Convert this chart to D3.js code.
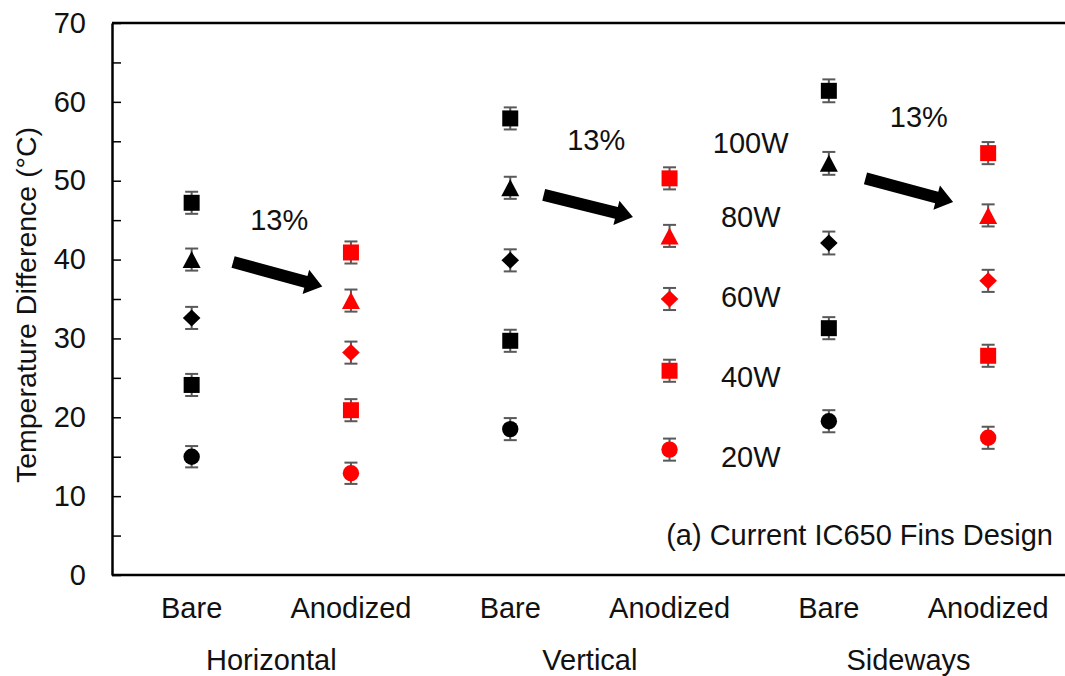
<!DOCTYPE html>
<html>
<head>
<meta charset="utf-8">
<script src="https://cdn.jsdelivr.net/npm/d3@7"></script>
<style>
  html, body { margin: 0; padding: 0; background: #fff; }
  svg { display: block; font-family: "Liberation Sans", Arial, sans-serif; }
</style>
</head>
<body>
<script>
// Fin temperature rise by orientation, surface finish and heater power
const categories = ["Bare", "Anodized", "Bare", "Anodized", "Bare", "Anodized"];
const groups = ["Horizontal", "Vertical", "Sideways"];
const powers = ["100W", "80W", "60W", "40W", "20W"];
const shapes = ["square", "triangle", "diamond", "square", "circle"];

// Temperature difference (°C), one value per category
const p100 = [47.2, 40.9, 57.9, 50.3, 61.4, 53.5];
const p80  = [40.0, 34.8, 49.1, 43.0, 52.2, 45.6];
const p60  = [32.6, 28.2, 39.9, 35.0, 42.1, 37.3];
const p40  = [24.1, 20.9, 29.7, 25.9, 31.3, 27.8];
const p20  = [15.0, 12.9, 18.5, 15.9, 19.5, 17.4];
const series = [p100, p80, p60, p40, p20];

// Measurement uncertainty (± °C)
const err100 = [1.4, 1.4, 1.4, 1.4, 1.45, 1.4];
const err80  = [1.4, 1.4, 1.4, 1.4, 1.45, 1.4];
const err60  = [1.4, 1.4, 1.4, 1.4, 1.45, 1.4];
const err40  = [1.4, 1.4, 1.4, 1.4, 1.4, 1.4];
const err20  = [1.35, 1.35, 1.4, 1.4, 1.4, 1.4];
const errors = [err100, err80, err60, err40, err20];

// Reduction annotations between bare and anodized fins
const reductionText = ["13%", "13%", "13%"];
const yTicks = d3.range(0, 71, 5);

const W = 1065, H = 676;
const plotLeft = 112, plotTop = 23, plotBottom = 575, band = 159.3;
const FS = 29;

const svg = d3.select("body").append("svg")
  .attr("width", W).attr("height", H);

const x = d3.scaleBand().domain(d3.range(categories.length))
  .range([plotLeft, plotLeft + band * categories.length]).padding(0);
const xg = d3.scaleBand().domain(groups)
  .range([plotLeft, plotLeft + band * categories.length]).padding(0);
const y = d3.scaleLinear().domain([0, 70]).range([plotBottom, plotTop]);
const cx = i => x(i) + x.bandwidth() / 2;

// frame line along the top
svg.append("line").attr("x1", plotLeft).attr("x2", W).attr("y1", plotTop).attr("y2", plotTop)
  .attr("stroke", "#000").attr("stroke-width", 2.5);

// y axis with inward ticks
const yAxis = d3.axisLeft(y).tickValues(yTicks)
  .tickSizeInner(-9).tickSizeOuter(0).tickPadding(26)
  .tickFormat(d => d % 10 === 0 ? d : "");
const gy = svg.append("g").attr("transform", `translate(${plotLeft},0)`).call(yAxis);
gy.select(".domain").attr("stroke", "#000").attr("stroke-width", 2.5);
gy.selectAll(".tick line").attr("stroke", "#000").attr("stroke-width", 1.5);
gy.selectAll(".tick text").attr("font-size", FS).attr("fill", "#111")
  .attr("font-family", "Liberation Sans, Arial, sans-serif");

// x axis: finish labels and orientation groups
const xAxis = d3.axisBottom(x).tickSize(0).tickPadding(22).tickFormat(i => categories[i]);
const gx = svg.append("g").attr("transform", `translate(0,${plotBottom})`).call(xAxis);
gx.select(".domain").attr("stroke", "#000").attr("stroke-width", 2.5)
  .attr("d", `M${plotLeft},0H${W}`);
gx.selectAll(".tick text").attr("font-size", FS).attr("fill", "#111")
  .attr("font-family", "Liberation Sans, Arial, sans-serif");

svg.append("g").selectAll("text").data(groups).join("text")
  .attr("x", d => xg(d) + xg.bandwidth() / 2)
  .attr("y", 670)
  .attr("text-anchor", "middle").attr("font-size", FS).attr("fill", "#111")
  .text(d => d);

// y axis title
svg.append("text")
  .attr("transform", `translate(36,${(plotTop + plotBottom) / 2 + 6}) rotate(-90)`)
  .attr("text-anchor", "middle").attr("font-size", 28.5).attr("fill", "#111")
  .text("Temperature Difference (°C)");

// marker shapes, centered on the value
function markerPath(shape) {
  const p = d3.path();
  if (shape === "square") {
    p.rect(-8, -8, 16, 16);
  } else if (shape === "triangle") {
    p.moveTo(0, -8.5); p.lineTo(9, 8.5); p.lineTo(-9, 8.5); p.closePath();
  } else if (shape === "diamond") {
    p.moveTo(0, -8.5); p.lineTo(8.8, 0); p.lineTo(0, 8.5); p.lineTo(-8.8, 0); p.closePath();
  } else {
    p.arc(0, 0, 8.2, 0, 2 * Math.PI);
  }
  return p.toString();
}

const points = [];
series.forEach((vals, s) => vals.forEach((v, i) => points.push({
  s, i, v, e: errors[s][i], shape: shapes[s], color: i % 2 === 0 ? "#000" : "#ff0000"
})));

// error bars
const eb = svg.append("g").selectAll("g").data(points).join("g")
  .attr("stroke", "#595959").attr("stroke-width", 2);
eb.append("line").attr("x1", d => cx(d.i)).attr("x2", d => cx(d.i))
  .attr("y1", d => y(d.v + d.e)).attr("y2", d => y(d.v - d.e));
eb.append("line").attr("x1", d => cx(d.i) - 6.5).attr("x2", d => cx(d.i) + 6.5)
  .attr("y1", d => y(d.v + d.e)).attr("y2", d => y(d.v + d.e));
eb.append("line").attr("x1", d => cx(d.i) - 6.5).attr("x2", d => cx(d.i) + 6.5)
  .attr("y1", d => y(d.v - d.e)).attr("y2", d => y(d.v - d.e));

// markers
svg.append("g").selectAll("path").data(points).join("path")
  .attr("transform", d => `translate(${cx(d.i)},${y(d.v)})`)
  .attr("d", d => markerPath(d.shape))
  .attr("fill", d => d.color);

// power labels on the boundary between the vertical and sideways groups
const powerLabelAt = [53.5, 44.1, 34.0, 23.8, 13.7];
svg.append("g").selectAll("text").data(powers).join("text")
  .attr("x", x(4) + 1.5)
  .attr("y", (d, k) => y(powerLabelAt[k]))
  .attr("text-anchor", "middle").attr("font-size", FS).attr("fill", "#111")
  .text(d => d);

// arrows: start/end as (category index + offset, value)
const arrowStart = [[0.26, 39.7], [2.21, 48.2], [4.23, 50.3]];
const arrowEnd   = [[0.82, 36.6], [2.77, 45.4], [4.78, 47.3]];
const labelAt    = [[0.55, 43.7], [2.54, 53.9], [4.565, 56.8]];
const px = t => cx(Math.floor(t)) + (t - Math.floor(t)) * band;

arrowStart.forEach((a, k) => {
  const x0 = px(a[0]), y0 = y(a[1]);
  const x1 = px(arrowEnd[k][0]), y1 = y(arrowEnd[k][1]);
  const len = Math.hypot(x1 - x0, y1 - y0);
  const ang = Math.atan2(y1 - y0, x1 - x0) * 180 / Math.PI;
  const hw = 6, headW = 12.5, headL = 17;
  svg.append("path")
    .attr("transform", `translate(${x0},${y0}) rotate(${ang})`)
    .attr("d", `M0,${-hw}L${len - headL},${-hw}L${len - headL},${-headW}L${len},0L${len - headL},${headW}L${len - headL},${hw}L0,${hw}Z`)
    .attr("fill", "#000");
  svg.append("text")
    .attr("x", px(labelAt[k][0])).attr("y", y(labelAt[k][1]))
    .attr("text-anchor", "middle").attr("font-size", FS).attr("fill", "#111")
    .text(reductionText[k]);
});

// panel caption
svg.append("text").attr("x", 1053).attr("y", 545)
  .attr("text-anchor", "end").attr("font-size", FS).attr("fill", "#111")
  .text("(a) Current IC650 Fins Design");
</script>
</body>
</html>
